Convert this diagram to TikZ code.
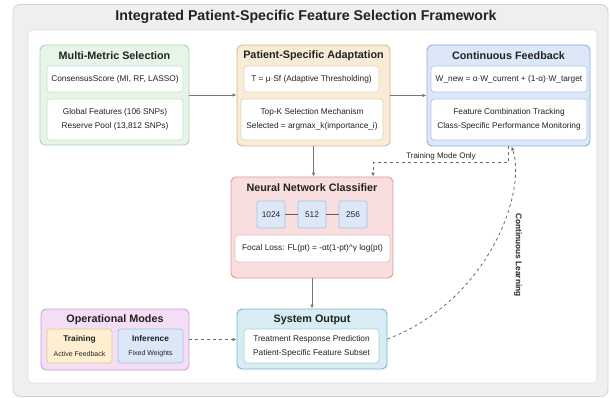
\documentclass[tikz,border=0pt]{standalone}
\usepackage{fontspec}
\setmainfont{Liberation Sans}
\usetikzlibrary{arrows.meta}

\definecolor{framefill}{HTML}{EFEFEF}
\definecolor{frameline}{HTML}{D2D2D2}
\definecolor{panelline}{HTML}{DEDEDE}
\definecolor{greenfill}{HTML}{E7F4E8}
\definecolor{greenline}{HTML}{A8D5AA}
\definecolor{greeninner}{HTML}{C5E3C6}
\definecolor{tanfill}{HTML}{F8EBD8}
\definecolor{tanline}{HTML}{D8B98C}
\definecolor{taninner}{HTML}{E8D2B2}
\definecolor{bluefill}{HTML}{DCE7F8}
\definecolor{blueline}{HTML}{8EADE6}
\definecolor{blueinner}{HTML}{AFC6EE}
\definecolor{redfill}{HTML}{F8DEDE}
\definecolor{redline}{HTML}{DC9C9C}
\definecolor{redinner}{HTML}{EBBCBC}
\definecolor{purplefill}{HTML}{F4DEF6}
\definecolor{purpleline}{HTML}{CC9ED6}
\definecolor{tealfill}{HTML}{D8ECF3}
\definecolor{tealline}{HTML}{7DB7CB}
\definecolor{tealinner}{HTML}{A6D0DE}
\definecolor{trainfill}{HTML}{FDEFD0}
\definecolor{trainline}{HTML}{E6C98F}
\definecolor{layerline}{HTML}{A8C0E6}
\definecolor{arrowgray}{HTML}{777777}
\definecolor{inkgray}{HTML}{222222}

\tikzset{
  group/.style={rectangle,rounded corners=5pt,line width=0.9pt,inner sep=0pt},
  inner/.style={rectangle,rounded corners=3pt,fill=white,draw=#1,line width=0.7pt,inner sep=0pt,
    align=center,text=inkgray,font=\fontsize{8.3}{14}\selectfont},
  grouptitle/.style={text=inkgray,font=\bfseries\fontsize{10.8}{12}\selectfont},
  layerbox/.style={rectangle,rounded corners=2pt,fill=bluefill,draw=layerline,line width=0.7pt,
    minimum width=28pt,minimum height=27pt,inner sep=0pt,text=inkgray,font=\fontsize{8.3}{10}\selectfont},
  modebox/.style={rectangle,rounded corners=3pt,line width=0.7pt,minimum width=65pt,minimum height=34pt,
    inner sep=0pt,align=center,text=inkgray},
  flow/.style={draw=arrowgray,line width=0.9pt,-{Latex[length=4pt,width=3.5pt]}},
  loop/.style={draw=arrowgray!90!black,line width=0.8pt,dashed,-{Latex[length=4pt,width=3.5pt]}}
}

\begin{document}
\begin{tikzpicture}[x=1pt,y=-1pt]
\useasboundingbox (0,0) rectangle (610,398);

\node[rectangle,rounded corners=7pt,fill=framefill,draw=frameline,line width=0.8pt,minimum width=595pt,minimum height=392pt] (frame) at (310.5,200.5) {};
\node[rectangle,rounded corners=4pt,fill=white,draw=panelline,line width=0.6pt,minimum width=569pt,minimum height=353pt] (panel) at (312.5,206.5) {};
\node[text=inkgray,font=\bfseries\fontsize{14.2}{16}\selectfont] (title) at (306,17) {Integrated Patient-Specific Feature Selection Framework};

\node[group,fill=greenfill,draw=greenline,minimum width=149pt,minimum height=100pt] (msel) at (114.5,95) {};
\node[grouptitle] (mseltitle) at (114.5,55.5) {Multi-Metric Selection};
\node[inner=greeninner,minimum width=136pt,minimum height=26pt] (mselscore) at (115,79) {ConsensusScore (MI, RF, LASSO)};
\node[inner=greeninner,minimum width=136pt,minimum height=41pt] (mselpool) at (115,119.5) {Global Features (106 SNPs)\\Reserve Pool (13,812 SNPs)};

\node[group,fill=tanfill,draw=tanline,minimum width=153pt,minimum height=101pt] (adapt) at (313.5,95.5) {};
\node[grouptitle] (adapttitle) at (313.5,55.5) {Patient-Specific Adaptation};
\node[inner=taninner,minimum width=135pt,minimum height=26pt] (adaptthr) at (311.5,79) {T = μ·Sf (Adaptive Thresholding)};
\node[inner=taninner,minimum width=142pt,minimum height=41pt] (adapttopk) at (312,119.5) {Top-K Selection Mechanism\\Selected = argmax\_k(importance\_i)};

\node[group,fill=bluefill,draw=blueline,minimum width=163pt,minimum height=101pt] (feed) at (508.5,95.5) {};
\node[grouptitle] (feedtitle) at (508.5,55.5) {Continuous Feedback};
\node[inner=blueinner,minimum width=156pt,minimum height=26pt] (feedw) at (509,79) {W\_new = α·W\_current + (1-α)·W\_target};
\node[inner=blueinner,minimum width=156pt,minimum height=41pt] (feedtrack) at (509,119.5) {Feature Combination Tracking\\Class-Specific Performance Monitoring};

\node[group,fill=redfill,draw=redline,minimum width=162pt,minimum height=101pt] (nn) at (312,227.5) {};
\node[grouptitle] (nntitle) at (312,187.5) {Neural Network Classifier};
\node[layerbox] (l1) at (271,214.5) {1024};
\node[layerbox] (l2) at (312,214.5) {512};
\node[layerbox] (l3) at (353,214.5) {256};
\draw[draw=arrowgray!80!black,line width=0.7pt] (l1) -- (l2);
\draw[draw=arrowgray!80!black,line width=0.7pt] (l2) -- (l3);
\node[inner=redinner,minimum width=155pt,minimum height=27pt] (focal) at (312.5,248.5) {Focal Loss: FL(pt) = -αt(1-pt)\^{}γ log(pt)};

\node[group,fill=purplefill,draw=purpleline,minimum width=148pt,minimum height=61pt] (modes) at (115,339.5) {};
\node[grouptitle] (modestitle) at (115,319.5) {Operational Modes};
\node[modebox,fill=trainfill,draw=trainline] (train) at (79.5,346) {{\bfseries\fontsize{8.3}{10}\selectfont Training}\\[2.5pt]{\fontsize{7}{8}\selectfont Active Feedback}};
\node[modebox,fill=bluefill,draw=layerline] (infer) at (150.5,346) {{\bfseries\fontsize{8.3}{10}\selectfont Inference}\\[2.5pt]{\fontsize{7}{8}\selectfont Fixed Weights}};

\node[group,fill=tealfill,draw=tealline,minimum width=150pt,minimum height=60pt] (out) at (312,339) {};
\node[grouptitle] (outtitle) at (312,319.5) {System Output};
\node[inner=tealinner,minimum width=135pt,minimum height=34pt] (outres) at (311.5,346) {Treatment Response Prediction\\Patient-Specific Feature Subset};

\draw[flow] (msel.east) -- (msel.east -| adapt.west);
\draw[flow] (adapt.east) -- (adapt.east -| feed.west);
\draw[flow] (adapt.south) -- (adapt.south |- nn.north);
\draw[flow] (nn.south) -- (nn.south |- out.north);
\draw[loop] (modes.east) -- (modes.east -| out.west);

\draw[loop] (feed.south) -- ++(0,16) -| ([xshift=61pt]nn.north);
\node[text=inkgray,font=\fontsize{8}{9}\selectfont] (tmlabel) at (441,156.5) {Training Mode Only};

\draw[loop] (out.east) .. controls (490,300) and (527,190) .. ([xshift=3pt]feed.south);
\node[rotate=-90,text=inkgray,font=\bfseries\fontsize{8.3}{10}\selectfont] (cllabel) at (518,255) {Continuous Learning};

\end{tikzpicture}
\end{document}
